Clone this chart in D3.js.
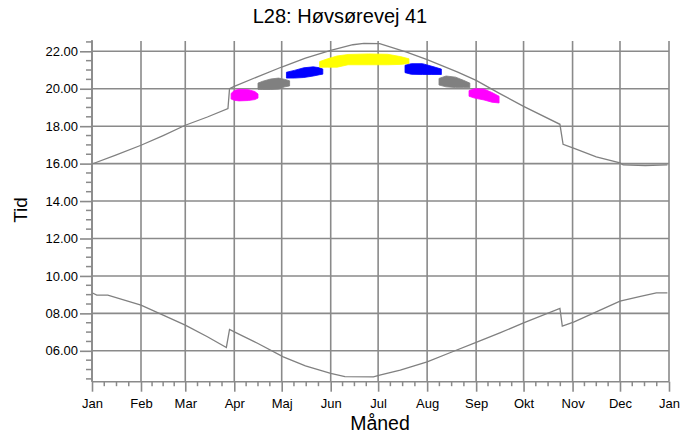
<!DOCTYPE html>
<html>
<head>
<meta charset="utf-8">
<script src="https://cdn.jsdelivr.net/npm/d3@7"></script>
<style>
  body { margin: 0; background: #fff; }
  svg { display: block; font-family: Arial, "Liberation Sans", sans-serif; }
</style>
</head>
<body>
<svg id="chart" width="697" height="437"></svg>
<script>
// month starts, day of year
const monthDays = [0, 31, 59, 90, 120, 151, 181, 212, 243, 273, 304, 334, 365]
const monthNames = ['Jan', 'Feb', 'Mar', 'Apr', 'Maj', 'Jun', 'Jul', 'Aug', 'Sep', 'Okt', 'Nov', 'Dec', 'Jan']
const hourTicks = [6, 8, 10, 12, 14, 16, 18, 20, 22]

// sunset (upper curve), decimal hours
const sunsetDays = [0, 15, 31, 45, 59, 73, 86, 87, 90, 105, 120, 135, 151, 165, 172, 182, 199, 212, 231, 243, 258, 273, 296, 298, 305, 319, 334, 336, 350, 364]
const sunsetTimes = [15.98, 16.45, 16.98, 17.5, 18.05, 18.49, 18.94, 20.0, 20.13, 20.65, 21.16, 21.63, 22.05, 22.35, 22.42, 22.41, 21.96, 21.56, 20.9, 20.45, 19.74, 19.06, 18.1, 17.03, 16.81, 16.36, 16.04, 15.93, 15.9, 15.93]

// sunrise (lower curve)
const sunriseDays = [0, 3, 10, 31, 45, 59, 73, 85, 87, 90, 105, 121, 135, 151, 160, 178, 182, 195, 212, 228, 243, 258, 273, 296, 297.5, 305, 319, 334, 347, 357, 364]
const sunriseTimes = [9.1, 8.98, 8.97, 8.44, 7.91, 7.37, 6.75, 6.18, 7.14, 7.01, 6.39, 5.68, 5.19, 4.8, 4.62, 4.61, 4.7, 4.97, 5.41, 5.95, 6.45, 6.96, 7.49, 8.26, 7.32, 7.55, 8.08, 8.65, 8.91, 9.1, 9.1]

// periods: [day, from, to]
const magenta1 = [[88, 19.45, 19.75], [90, 19.38, 19.9], [93, 19.35, 19.97], [99, 19.37, 19.95], [103, 19.42, 19.85], [105, 19.5, 19.72]]
const gray1 = [[105, 19.97, 20.3], [108, 19.96, 20.4], [113, 19.96, 20.52], [118, 19.98, 20.57], [122, 20.1, 20.5], [125, 20.15, 20.42]]
const blue1 = [[123, 20.57, 20.88], [128, 20.57, 20.98], [134, 20.6, 21.12], [140, 20.68, 21.17], [144, 20.75, 21.12], [146, 20.78, 21.05]]
const yellow = [[144, 21.15, 21.45], [149, 21.15, 21.6], [155, 21.15, 21.75], [162, 21.28, 21.83], [175, 21.28, 21.86], [187, 21.28, 21.84], [195, 21.3, 21.72], [200.5, 21.35, 21.6]]
const blue2 = [[198, 20.86, 21.25], [202, 20.77, 21.34], [209, 20.76, 21.34], [215, 20.76, 21.2], [221, 20.76, 21.05]]
const gray2 = [[219.5, 20.2, 20.55], [224, 20.1, 20.68], [230, 20.06, 20.62], [235, 20.06, 20.45], [239, 20.06, 20.3]]
const magenta2 = [[238.5, 19.6, 19.9], [242, 19.5, 20.0], [248, 19.4, 19.98], [253, 19.28, 19.8], [257.5, 19.24, 19.6]]

const periods = [
  { data: magenta1, color: '#ff00ff' },
  { data: gray1, color: '#808080' },
  { data: blue1, color: '#0000ff' },
  { data: yellow, color: '#ffff00' },
  { data: blue2, color: '#0000ff' },
  { data: gray2, color: '#808080' },
  { data: magenta2, color: '#ff00ff' }
]

const plot = { left: 92, right: 669, top: 41, bottom: 381.7 }
const gridColor = '#8a8a8a'

const x = d3.scaleLinear().domain([0, 365]).range([plot.left, plot.right])
const y = d3.scaleLinear().domain([4.35, 22.55]).range([plot.bottom, plot.top])

const svg = d3.select('#chart')

// grid
svg.append('g')
  .selectAll('line')
  .data(hourTicks)
  .join('line')
  .attr('x1', plot.left).attr('x2', plot.right)
  .attr('y1', (d) => y(d)).attr('y2', (d) => y(d))
  .attr('stroke', gridColor).attr('stroke-width', 1.6)

svg.append('g')
  .selectAll('line')
  .data(monthDays)
  .join('line')
  .attr('x1', (d) => x(d)).attr('x2', (d) => x(d))
  .attr('y1', plot.top).attr('y2', plot.bottom)
  .attr('stroke', gridColor).attr('stroke-width', 1.6)

// shadow periods
const area = d3.area()
  .x((d) => x(d[0]))
  .y0((d) => y(d[1]))
  .y1((d) => y(d[2]))

svg.append('g')
  .selectAll('path')
  .data(periods)
  .join('path')
  .attr('d', (d) => area(d.data))
  .attr('fill', (d) => d.color)
  .attr('stroke', (d) => d.color)
  .attr('stroke-width', 0.8)

// sun curves
const line = d3.line()
  .x((d) => x(d[0]))
  .y((d) => y(d[1]))

svg.append('g')
  .selectAll('path')
  .data([d3.zip(sunsetDays, sunsetTimes), d3.zip(sunriseDays, sunriseTimes)])
  .join('path')
  .attr('d', line)
  .attr('fill', 'none')
  .attr('stroke', '#808080')
  .attr('stroke-width', 1.3)

// y axis
const yMinor = d3.range(4.5, 22.51, 0.5).filter((d) => d % 2 !== 0)
const yAxis = svg.append('g').attr('transform', `translate(${plot.left},0)`)
yAxis.call(d3.axisLeft(y).tickValues(hourTicks).tickSize(12).tickPadding(2).tickFormat(d3.format('05.2f')))
yAxis.append('g')
  .selectAll('line')
  .data(yMinor)
  .join('line')
  .attr('x1', -6).attr('x2', 0)
  .attr('y1', (d) => y(d)).attr('y2', (d) => y(d))
  .attr('stroke', gridColor).attr('stroke-width', 1.5)

// x axis
const xMinor = []
monthDays.slice(0, -1).forEach((d, i) => {
  const len = monthDays[i + 1] - d
  for (let k = 1; k < 4; k++) xMinor.push(d + len * k / 4)
})
const xAxis = svg.append('g').attr('transform', `translate(0,${plot.bottom})`)
xAxis.call(d3.axisBottom(x).tickValues(monthDays).tickSize(10).tickPadding(7).tickFormat((d, i) => monthNames[i]))
xAxis.append('g')
  .selectAll('line')
  .data(xMinor)
  .join('line')
  .attr('x1', (d) => x(d)).attr('x2', (d) => x(d))
  .attr('y1', 0).attr('y2', 4.5)
  .attr('stroke', gridColor).attr('stroke-width', 1.5)

svg.selectAll('.domain, .tick line')
  .attr('stroke', gridColor).attr('stroke-width', 1.6)
svg.selectAll('.tick text')
  .attr('fill', '#000')
  .style('font-size', '13px')
  .style('font-family', 'Arial, "Liberation Sans", sans-serif')
yAxis.select('.domain').attr('d', `M0,${plot.top - 1}V${plot.bottom}`)
xAxis.select('.domain').attr('d', `M${plot.left},0H${plot.right}`)

// titles
svg.append('text')
  .attr('x', 340).attr('y', 23)
  .attr('text-anchor', 'middle')
  .style('font-size', '20px')
  .text('L28: Høvsørevej 41')

svg.append('text')
  .attr('transform', 'translate(27,210) rotate(-90)')
  .attr('text-anchor', 'middle')
  .style('font-size', '19px')
  .text('Tid')

svg.append('text')
  .attr('x', 380).attr('y', 430)
  .attr('text-anchor', 'middle')
  .style('font-size', '19.5px')
  .text('Måned')
</script>
</body>
</html>
